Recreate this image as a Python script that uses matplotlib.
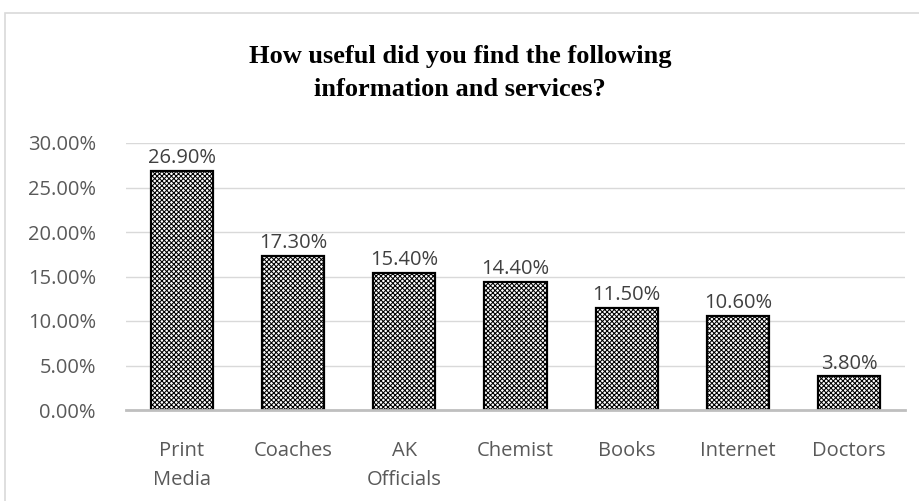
import matplotlib
matplotlib.use("Agg")
import matplotlib.pyplot as plt
from matplotlib.patches import Rectangle
from matplotlib.ticker import FuncFormatter, MultipleLocator

categories = ["Print\nMedia", "Coaches", "AK\nOfficials", "Chemist", "Books", "Internet", "Doctors"]
values = [26.90, 17.30, 15.40, 14.40, 11.50, 10.60, 3.80]

W, H = 919, 501
fig = plt.figure(figsize=(W/100, H/100), dpi=100)
ax = fig.add_axes([126.4/W, 1-410/H, (904.6-126.4)/W, (410-143)/H])

plt.rcParams['hatch.linewidth'] = 0.75
x = list(range(len(categories)))
bars = ax.bar(x, values, width=0.56, color="white", edgecolor="black", hatch="xxxxxxx",
              linewidth=1.6, zorder=3)

for xi, v in zip(x, values):
    ax.text(xi, v + 0.3, f"{v:.2f}%", ha="center", va="bottom", fontsize=14.5,
            color="#404040", family="Open Sans")

ax.set_xlim(-0.5, len(categories)-0.5)
ax.set_ylim(0, 30)
ax.yaxis.set_major_locator(MultipleLocator(5))
ax.yaxis.set_major_formatter(FuncFormatter(lambda v, p: f"{v:.2f}%"))
ax.set_xticks(x)
ax.set_xticklabels(categories)
ax.tick_params(axis="both", length=0, labelsize=14.5, labelcolor="#595959")
ax.tick_params(axis="x", pad=22)
ax.tick_params(axis="y", pad=22)
for lab in ax.get_xticklabels() + ax.get_yticklabels():
    lab.set_family("Open Sans")
for lab in ax.get_xticklabels():
    lab.set_linespacing(1.6)
ax.grid(axis="y", color="#d9d9d9", linewidth=1, zorder=0)
for s in ["top", "right", "left"]:
    ax.spines[s].set_visible(False)
ax.spines["bottom"].set_color("#bfbfbf")
ax.spines["bottom"].set_linewidth(2)
ax.spines["bottom"].set_zorder(4)

fig.text(460/W, 1-73/H, "How useful did you find the following\ninformation and services?",
         ha="center", va="center", fontsize=19, fontweight="bold", family="Liberation Serif",
         linespacing=1.5)

fig.patches.append(Rectangle((5/W, -0.01), 1.0, 1-13/H+0.01, transform=fig.transFigure,
                             fill=False, edgecolor="#d9d9d9", linewidth=1.2))

fig.savefig("out.png", dpi=100)
